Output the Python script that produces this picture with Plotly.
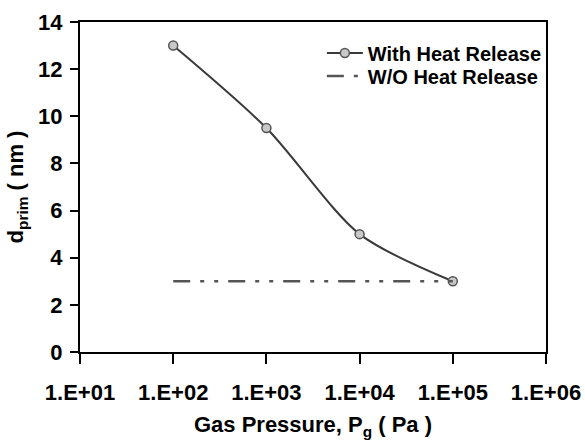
import plotly.graph_objects as go

# Data
pressure = [1e2, 1e3, 1e4, 1e5]
d_with = [13.0, 9.5, 5.0, 3.0]
pressure_wo = [1e2, 1e5]
d_wo = [3.0, 3.0]
x_tickvals = [1e1, 1e2, 1e3, 1e4, 1e5, 1e6]
x_ticktext = ["1.E+01", "1.E+02", "1.E+03", "1.E+04", "1.E+05", "1.E+06"]
y_tickvals = [0, 2, 4, 6, 8, 10, 12, 14]

FONT = "Liberation Sans, Arial, sans-serif"
LEG_FONT = dict(family=FONT, size=20, weight="bold", color="black")

fig = go.Figure()
fig.add_trace(go.Scatter(
    x=pressure, y=d_with, name="With Heat Release",
    mode="lines+markers", legend="legend",
    line=dict(color="#3a3a3a", width=2, shape="spline", smoothing=0.8),
    marker=dict(symbol="circle", size=9, color="#c8c8c8",
                line=dict(color="#555555", width=1.5)),
))
fig.add_trace(go.Scatter(
    x=pressure_wo, y=d_wo, name="W/O Heat Release",
    mode="lines", legend="legend2",
    line=dict(color="#555555", width=2.5, dash="17px,10px,4px,10px,4px,10px"),
))

fig.update_layout(
    width=585, height=440,
    margin=dict(l=80, r=39, t=22, b=88),
    paper_bgcolor="white", plot_bgcolor="white",
    font=dict(family=FONT, color="black", size=20, weight="bold"),
    showlegend=True,
    legend=dict(x=0.519, xanchor="left", y=0.906, yanchor="middle",
                bgcolor="rgba(0,0,0,0)", borderwidth=0,
                font=LEG_FONT, itemwidth=36),
    legend2=dict(x=0.519, xanchor="left", y=0.836, yanchor="middle",
                 bgcolor="rgba(0,0,0,0)", borderwidth=0,
                 font=LEG_FONT, itemwidth=36),
    xaxis=dict(
        type="log", range=[1, 6], automargin=False,
        tickvals=x_tickvals, ticktext=x_ticktext,
        ticks="outside", ticklen=10, tickwidth=2, tickcolor="black",
        showline=True, linewidth=2, linecolor="black", mirror=True,
        showgrid=False, zeroline=False, ticklabelstandoff=10,
        tickfont=dict(family=FONT, size=22, weight="bold"),
        title=dict(text="Gas Pressure, P<sub>g</sub> ( Pa )",
                   font=dict(family=FONT, size=22, weight="bold"), standoff=15),
    ),
    yaxis=dict(
        range=[0, 14], tickvals=y_tickvals, automargin=False,
        ticks="outside", ticklen=8, tickwidth=2, tickcolor="black",
        showline=True, linewidth=2, linecolor="black", mirror=True,
        showgrid=False, zeroline=False, ticklabelstandoff=3,
        tickfont=dict(family=FONT, size=22, weight="bold"),
        title=dict(text="d<sub>prim</sub> ( nm )",
                   font=dict(family=FONT, size=22, weight="bold"), standoff=8),
    ),
)

fig.write_html("out.html")
